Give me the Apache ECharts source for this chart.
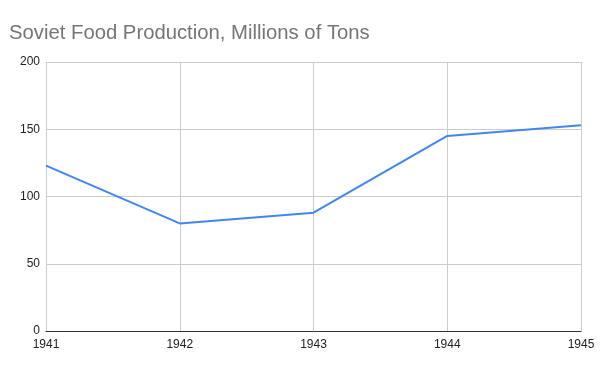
<!DOCTYPE html>
<html><head><meta charset="utf-8">
<script src="https://cdn.jsdelivr.net/npm/echarts@6/dist/echarts.min.js"></script>
<style>html,body{margin:0;padding:0;background:#fff}#c{width:600px;height:371px}</style>
</head><body><div id="c"></div>
<script>
const years = ['1941','1942','1943','1944','1945'];
const production = [123, 80, 88, 145, 153];
const yTicks = [0, 50, 100, 150, 200];

const chart = echarts.init(document.getElementById('c'), null, {renderer:'canvas'});
chart.setOption({
  animation:false,
  backgroundColor:'#fff',
  title:{text:'Soviet Food Production, Millions of Tons', left:4, top:18,
    textStyle:{fontFamily:'Liberation Sans, Arial', fontSize:20.3, fontWeight:'normal', color:'#757575'}},
  grid:{left:46, right:19, top:62, bottom:40, containLabel:false},
  xAxis:{type:'category', data:years, boundaryGap:false,
    axisLine:{lineStyle:{color:'#333', width:1}},
    axisTick:{show:false},
    axisLabel:{fontFamily:'Liberation Sans, Arial', fontSize:12, color:'#222', margin:8},
    splitLine:{show:true, lineStyle:{color:'#ccc', width:1}}},
  yAxis:{type:'value', min:yTicks[0], max:yTicks[yTicks.length-1], interval:50,
    axisLine:{show:false}, axisTick:{show:false},
    axisLabel:{fontFamily:'Liberation Sans, Arial', fontSize:12, color:'#222', margin:6},
    splitLine:{lineStyle:{color:'#ccc', width:1}}},
  series:[{type:'line', data:production, symbol:'none',
    lineStyle:{color:'#4285F4', width:2}, itemStyle:{color:'#4285F4'}}]
});
</script></body></html>
